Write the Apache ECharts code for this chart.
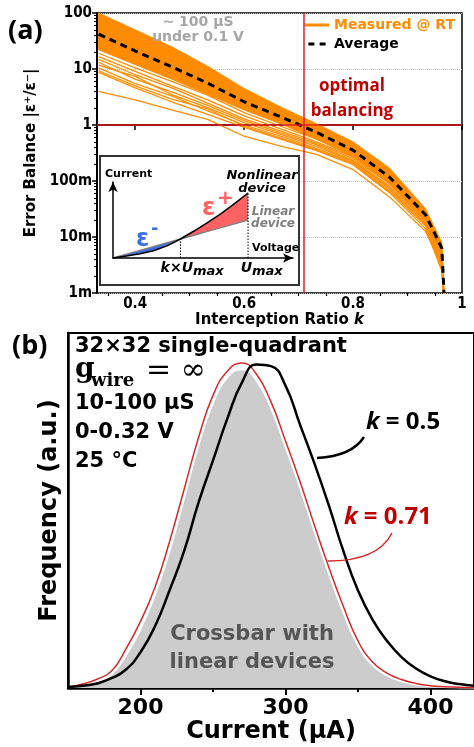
<!DOCTYPE html>
<html lang="en">
<head>
<meta charset="UTF-8">
<title>Error balance / current distribution</title>
<script src="https://cdn.jsdelivr.net/npm/echarts@6/dist/echarts.min.js"></script>
<style>
  html, body { margin: 0; padding: 0; background: #fff; }
  #main { width: 474px; height: 747px; }
</style>
</head>
<body>
<div id="main"></div>
<script>
// ---------- (a) error balance vs interception ratio ----------
var kRatio = [0.333, 0.4, 0.467, 0.533, 0.6, 0.667, 0.733, 0.8, 0.867, 0.933, 0.963, 0.967];
var avgBalance = [42, 21, 11, 5.6, 2.6, 1.4, 0.74, 0.355, 0.117, 0.025, 0.0063, 0.001];
// dense part of the measured band (upper / lower edge)
var bandUpper = [100, 50, 25, 11.2, 4.5, 2.1, 1.05, 0.5, 0.17, 0.032, 0.0079, 0.001];
var bandLower = [22, 12, 6.6, 3.5, 1.86, 1.05, 0.56, 0.27, 0.089, 0.019, 0.005, 0.001];
// single measured devices below the dense band
var measured1 = [19.1, 10.5, 6.0, 3.4, 1.66, 0.95, 0.56, 0.295, 0.105, 0.024, 0.0056, 0.0008];
var measured2 = [16.6, 9.1, 5.0, 2.8, 1.45, 0.85, 0.50, 0.27, 0.095, 0.022, 0.005, 0.0008];
var measured3 = [14.8, 7.9, 4.6, 2.45, 1.29, 0.78, 0.47, 0.25, 0.089, 0.021, 0.0045, 0.0008];
var measured4 = [13.2, 6.6, 3.9, 2.24, 1.2, 0.72, 0.44, 0.234, 0.081, 0.019, 0.004, 0.0008];
var measured5 = [11.7, 7.4, 3.5, 2.04, 1.1, 0.68, 0.41, 0.224, 0.076, 0.0178, 0.0035, 0.0008];
var measured6 = [10.5, 5.5, 3.3, 1.78, 1.0, 0.63, 0.38, 0.214, 0.071, 0.0166, 0.0032, 0.0008];
var measured7 = [9.3, 5.0, 2.9, 1.95, 0.95, 0.59, 0.36, 0.204, 0.066, 0.0158, 0.0028, 0.0008];
var measured8 = [8.7, 4.6, 2.6, 1.55, 0.91, 0.56, 0.35, 0.195, 0.062, 0.0141, 0.0025, 0.0008];
var measuredOutlier = [4.0, 2.8, 1.86, 1.26, 0.63, 0.42, 0.30, 0.16, 0.052, 0.0126, 0.0032, 0.0008];

var kTicks = [0.4, 0.6, 0.8, 1.0];
var kTickLabels = ['0.4', '0.6', '0.8', '1'];
var kMinorTicks = [0.35, 0.45, 0.5, 0.55, 0.65, 0.7, 0.75, 0.85, 0.9, 0.95];
var balanceTickLabels = ['1m', '10m', '100m', '1', '10', '100'];
var minorMultipliers = [2, 3, 4, 5, 6, 7, 8, 9];
var kOptimal = 0.71;
var balanceOne = 1;

// ---------- inset sketch ----------
var sketchV = [0, 0.1, 0.2, 0.3, 0.4, 0.5, 0.6, 0.7, 0.8, 0.9, 1.0];
var sketchLinear = [0, 0.1, 0.2, 0.3, 0.4, 0.5, 0.6, 0.7, 0.8, 0.9, 1.0];
var sketchNonlinear = [0, 0.05, 0.11, 0.19, 0.32, 0.5, 0.71, 0.93, 1.17, 1.43, 1.71];
var sketchK = 0.5;

// ---------- (b) current distributions ----------
var currentUA = [150, 160, 170, 180, 190, 200, 210, 220, 230, 240, 250, 260, 270, 280, 290,
                 300, 310, 320, 330, 340, 350, 360, 370, 380, 390, 400, 410, 420, 430];
var freqK05 = [0.003, 0.007, 0.014, 0.03, 0.057, 0.11, 0.19, 0.30, 0.42, 0.57, 0.70, 0.83, 0.94, 0.995, 0.99,
               0.93, 0.81, 0.69, 0.56, 0.42, 0.30, 0.21, 0.145, 0.095, 0.06, 0.036, 0.021, 0.012, 0.007];
var freqK071 = [0.003, 0.012, 0.027, 0.052, 0.12, 0.205, 0.31, 0.45, 0.61, 0.77, 0.90, 0.975, 1.0, 0.965, 0.88,
                0.76, 0.635, 0.50, 0.37, 0.25, 0.145, 0.08, 0.046, 0.026, 0.014, 0.007, 0.004, 0.002, 0.001];
var freqLinear = [0.002, 0.008, 0.02, 0.042, 0.1, 0.18, 0.285, 0.42, 0.58, 0.745, 0.875, 0.955, 0.98, 0.945, 0.86,
                  0.74, 0.615, 0.48, 0.35, 0.23, 0.13, 0.07, 0.038, 0.02, 0.01, 0.005, 0.002, 0.001, 0.0];
var currentTicks = [200, 300, 400];
var currentMinorTicks = [250, 350];

var SANS = "'DejaVu Sans', sans-serif";
var COND = "'DejaVu Sans Condensed', 'DejaVu Sans', sans-serif";
var CAL = "'Open Sans', sans-serif";
var SERIF = "'DejaVu Serif', serif";
var ORANGE = '#ff8c00';

var balanceMinorLog = [];
for (var d = -3; d < 2; d++) {
    minorMultipliers.forEach(function (m) { balanceMinorLog.push(d + Math.log10(m)); });
}

function pairs(xs, ys) {
    return xs.map(function (x, i) { return [x, ys[i]]; });
}

var series = [];

// dense measured band
series.push({
    type: 'custom', name: 'band', xAxisIndex: 0, yAxisIndex: 0, silent: true, z: 2,
    data: [[kRatio[0], bandUpper[0]]],
    renderItem: function (params, api) {
        var pts = [];
        for (var i = 0; i < kRatio.length; i++) pts.push(api.coord([kRatio[i], bandUpper[i]]));
        for (var j = kRatio.length - 1; j >= 0; j--) pts.push(api.coord([kRatio[j], bandLower[j]]));
        return { type: 'polygon', shape: { points: pts }, style: { fill: ORANGE, stroke: ORANGE, lineWidth: 1 } };
    }
});

[measured1, measured2, measured3, measured4, measured5, measured6, measured7, measured8, measuredOutlier]
    .forEach(function (arr) {
        series.push({
            type: 'line', name: 'Measured @ RT', xAxisIndex: 0, yAxisIndex: 0,
            data: pairs(kRatio, arr), symbol: 'none', silent: true, z: 2,
            itemStyle: { color: ORANGE },
            lineStyle: { color: ORANGE, width: 1.3 }
        });
    });

// red reference lines
series.push({
    type: 'line', name: 'ref', xAxisIndex: 0, yAxisIndex: 0, data: [], z: 3,
    markLine: {
        silent: true, symbol: 'none', label: { show: false },
        lineStyle: { color: '#e02020', width: 1.5, type: 'solid' },
        data: [{ yAxis: balanceOne }, { xAxis: kOptimal }]
    }
});

series.push({
    type: 'line', name: 'Average', xAxisIndex: 0, yAxisIndex: 0,
    data: pairs(kRatio, avgBalance), symbol: 'none', silent: true, z: 4,
    itemStyle: { color: '#000' },
    lineStyle: { color: '#000', width: 3, type: [7, 5] }
});

// inset: error areas and I-V curves
function polygonSeries(color, fwd, back) {
    return {
        type: 'custom', xAxisIndex: 4, yAxisIndex: 3, silent: true, z: 3,
        data: [[0, 0]],
        renderItem: function (params, api) {
            var pts = [];
            fwd.forEach(function (i) { pts.push(api.coord([sketchV[i], sketchLinear[i]])); });
            back.forEach(function (i) { pts.push(api.coord([sketchV[i], sketchNonlinear[i]])); });
            return { type: 'polygon', shape: { points: pts }, style: { fill: color } };
        }
    };
}
series.push(polygonSeries('#3f6fe6', [0, 1, 2, 3, 4, 5], [5, 4, 3, 2, 1, 0]));
series.push(polygonSeries('#ff6262', [5, 6, 7, 8, 9, 10], [10, 9, 8, 7, 6, 5]));
series.push({
    type: 'line', xAxisIndex: 4, yAxisIndex: 3, data: pairs(sketchV, sketchLinear),
    symbol: 'none', silent: true, z: 4, lineStyle: { color: '#808080', width: 1.5 }
});
series.push({
    type: 'line', xAxisIndex: 4, yAxisIndex: 3, data: pairs(sketchV, sketchNonlinear),
    symbol: 'none', silent: true, z: 4, lineStyle: { color: '#000', width: 1.5 }
});
series.push({
    type: 'line', xAxisIndex: 4, yAxisIndex: 3, data: [[sketchK, 0], [sketchK, sketchLinear[5]]],
    symbol: 'none', silent: true, z: 4, lineStyle: { color: '#000', width: 1, type: [1.5, 1.5] }
});
series.push({
    type: 'line', xAxisIndex: 4, yAxisIndex: 3, data: [[1, 0], [1, sketchNonlinear[10]]],
    symbol: 'none', silent: true, z: 4, lineStyle: { color: '#000', width: 1, type: [1.5, 1.5] }
});

// (b) distributions
series.push({
    type: 'line', name: 'linear', xAxisIndex: 2, yAxisIndex: 2, data: pairs(currentUA, freqLinear),
    smooth: true, symbol: 'none', silent: true, z: 2,
    lineStyle: { color: '#fff', width: 1.5 }, areaStyle: { color: '#cccccc', opacity: 1 }
});
series.push({
    type: 'line', name: 'k071', xAxisIndex: 2, yAxisIndex: 2, data: pairs(currentUA, freqK071),
    smooth: true, symbol: 'none', silent: true, z: 3, lineStyle: { color: '#d42a2a', width: 1.5 }
});
series.push({
    type: 'line', name: 'k05', xAxisIndex: 2, yAxisIndex: 2, data: pairs(currentUA, freqK05),
    smooth: true, symbol: 'none', silent: true, z: 4, lineStyle: { color: '#000', width: 2.5 }
});

function txt(x, y, text, font, color, align, vAlign, extra) {
    var st = {
        text: text, font: font, fill: color,
        align: align, verticalAlign: vAlign, textAlign: align, textVerticalAlign: vAlign
    };
    if (extra) for (var key in extra) st[key] = extra[key];
    return { type: 'text', x: x, y: y, z: 100, silent: true, style: st };
}

var graphicEls = [
    txt(8, 31, '(a)', 'bold 27px ' + CAL, '#000', 'left', 'middle'),
    txt(12, 346, '(b)', 'bold 27px ' + CAL, '#000', 'left', 'middle'),
    txt(198, 15, '~ 100 µS\nunder 0.1 V', 'bold 14px ' + SANS, '#a6a6a6', 'center', 'top', { lineHeight: 15 }),
    txt(352, 74, 'optimal\nbalancing', 'bold 17px ' + CAL, '#c00000', 'center', 'top', { lineHeight: 25 }),
    { type: 'rect', z: 1, silent: true, shape: { x: 100, y: 156, width: 199, height: 129 },
      style: { fill: '#fff', stroke: '#333', lineWidth: 2 } },
    txt(105, 174, 'Current', 'bold 11px ' + SANS, '#000', 'left', 'middle'),
    txt(252, 248, 'Voltage', 'bold 11px ' + SANS, '#000', 'left', 'middle'),
    txt(262, 169, 'Nonlinear\ndevice', 'italic bold 13px ' + SANS, '#000', 'center', 'top', { lineHeight: 13 }),
    txt(273, 206, 'Linear\ndevice', 'italic bold 12px ' + SANS, '#7f7f7f', 'center', 'top', { lineHeight: 12 }),
    txt(136, 240, 'ε', 'bold 24px ' + SANS, '#3f6fe6', 'left', 'middle'),
    txt(151, 229, '-', 'bold 18px ' + SANS, '#3f6fe6', 'left', 'middle'),
    txt(202, 209, 'ε', 'bold 24px ' + SANS, '#ff6262', 'left', 'middle'),
    txt(217, 199, '+', 'bold 20px ' + SANS, '#ff6262', 'left', 'middle'),
    txt(193, 268, 'k×U', 'italic bold 14px ' + SANS, '#000', 'right', 'middle'),
    txt(193, 272, 'max', 'italic bold 13px ' + SANS, '#000', 'left', 'middle'),
    txt(252, 268, 'U', 'italic bold 14px ' + SANS, '#000', 'right', 'middle'),
    txt(252, 272, 'max', 'italic bold 13px ' + SANS, '#000', 'left', 'middle'),

    txt(75, 347, '32×32 single-quadrant', 'bold 21px ' + SANS, '#000', 'left', 'middle'),
    txt(75, 370, 'g', 'bold 28px ' + SERIF, '#000', 'left', 'middle'),
    txt(91, 381, 'wire', 'bold 18px ' + SERIF, '#000', 'left', 'middle'),
    txt(146, 371, '= ∞', '30px ' + SERIF, '#000', 'left', 'middle'),
    txt(75, 404, '10-100 µS', 'bold 21px ' + SANS, '#000', 'left', 'middle'),
    txt(75, 433, '0-0.32 V', 'bold 21px ' + SANS, '#000', 'left', 'middle'),
    txt(75, 462, '25 °C', 'bold 21px ' + SANS, '#000', 'left', 'middle'),
    txt(252, 621, 'Crossbar with\nlinear devices', 'bold 21px ' + SANS, '#555555', 'center', 'top', { lineHeight: 28 }),
    txt(366, 422, '{i|k}{n| = 0.5}', 'bold 24px ' + CAL, '#000', 'left', 'middle', {
        rich: {
            i: { fontStyle: 'italic', fontWeight: 'bold', fontSize: 24, fontFamily: CAL, fill: '#000' },
            n: { fontWeight: 'bold', fontSize: 24, fontFamily: CAL, fill: '#000' }
        }
    }),
    txt(344, 517, '{i|k}{n| = 0.71}', 'bold 24px ' + CAL, '#c00000', 'left', 'middle', {
        rich: {
            i: { fontStyle: 'italic', fontWeight: 'bold', fontSize: 24, fontFamily: CAL, fill: '#c00000' },
            n: { fontWeight: 'bold', fontSize: 24, fontFamily: CAL, fill: '#c00000' }
        }
    }),
    { type: 'bezierCurve', z: 100, silent: true,
      shape: { x1: 317, y1: 458, x2: 364, y2: 437, cpx1: 352, cpy1: 456 },
      style: { stroke: '#000', lineWidth: 2.5, fill: null } },
    { type: 'bezierCurve', z: 100, silent: true,
      shape: { x1: 328, y1: 561, x2: 392, y2: 533, cpx1: 378, cpy1: 561 },
      style: { stroke: '#d42a2a', lineWidth: 1.5, fill: null } }
];

var option = {
    animation: false,
    backgroundColor: '#fff',
    grid: [
        { left: 97, right: 12, top: 13, bottom: 454, show: true, borderColor: '#000', borderWidth: 1.5 },
        { left: 68, right: -3, top: 333, bottom: 59, show: true, borderColor: '#000', borderWidth: 2 },
        { left: 113, right: 181, top: 182, bottom: 489 }
    ],
    legend: {
        left: 305, top: 17, orient: 'vertical', padding: 0,
        itemWidth: 24, itemHeight: 3, itemGap: 3, selectedMode: false,
        textStyle: { fontFamily: SANS, fontWeight: 'bold', fontSize: 14, lineHeight: 16 },
        data: [
            { name: 'Measured @ RT', icon: 'rect', itemStyle: { color: ORANGE }, textStyle: { color: ORANGE } },
            { name: 'Average', icon: 'path://M0,0h8v4h-8z M15,0h8v4h-8z', itemStyle: { color: '#000' }, textStyle: { color: '#000' } }
        ]
    },
    xAxis: [
        {
            type: 'value', gridIndex: 0, min: 0.33, max: 1.0, position: 'bottom',
            axisLine: { show: true, lineStyle: { color: '#000', width: 2 } },
            axisTick: { show: true, customValues: kTicks, length: 5, lineStyle: { color: '#000', width: 1.5 } },
            axisLabel: {
                show: true, customValues: kTicks, margin: 4,
                formatter: function (v) {
                    for (var i = 0; i < kTicks.length; i++) if (Math.abs(kTicks[i] - v) < 1e-6) return kTickLabels[i];
                    return '';
                },
                color: '#000', fontWeight: 'bold', fontFamily: COND, fontSize: 15
            },
            splitLine: { show: false },
            name: 'Interception Ratio {it|k}', nameLocation: 'middle', nameGap: 17,
            nameTextStyle: {
                color: '#000', fontWeight: 'bold', fontFamily: SANS, fontSize: 15,
                rich: { it: { fontStyle: 'italic', fontWeight: 'bold', fontFamily: SANS, fontSize: 15, color: '#000' } }
            }
        },
        {
            type: 'value', gridIndex: 0, min: 0.33, max: 1.0, position: 'bottom',
            axisLine: { show: false },
            axisTick: { show: true, customValues: kMinorTicks, length: 3, lineStyle: { color: '#000', width: 1.2 } },
            axisLabel: { show: false }, splitLine: { show: false }
        },
        {
            type: 'value', gridIndex: 1, min: 150, max: 430, position: 'bottom',
            axisLine: { show: true, lineStyle: { color: '#000', width: 2.5 } },
            axisTick: { show: true, customValues: currentTicks, length: 7, lineStyle: { color: '#000', width: 2 } },
            axisLabel: {
                show: true, customValues: currentTicks, margin: 9,
                color: '#000', fontWeight: 'bold', fontFamily: SANS, fontSize: 22
            },
            splitLine: { show: false },
            name: 'Current (µA)', nameLocation: 'middle', nameGap: 30,
            nameTextStyle: { color: '#000', fontWeight: 'bold', fontFamily: SANS, fontSize: 24 }
        },
        {
            type: 'value', gridIndex: 1, min: 150, max: 430, position: 'bottom',
            axisLine: { show: false },
            axisTick: { show: true, customValues: currentMinorTicks, length: 4, lineStyle: { color: '#000', width: 2 } },
            axisLabel: { show: false }, splitLine: { show: false }
        },
        {
            type: 'value', gridIndex: 2, min: 0, max: 1.333, z: 5,
            axisLine: { show: true, symbol: ['none', 'arrow'], symbolSize: [7, 10], lineStyle: { color: '#000', width: 1.5 } },
            axisTick: { show: false }, axisLabel: { show: false }, splitLine: { show: false }
        }
    ],
    yAxis: [
        {
            type: 'log', logBase: 10, gridIndex: 0, min: 0.001, max: 100, position: 'left',
            axisLine: { show: true, lineStyle: { color: '#000', width: 2 } },
            axisTick: { show: true, length: 5, lineStyle: { color: '#000', width: 1.5 } },
            axisLabel: {
                margin: 5, color: '#000', fontWeight: 'bold', fontFamily: COND, fontSize: 15,
                formatter: function (v) {
                    var idx = Math.round(Math.log10(v)) + 3;
                    return balanceTickLabels[idx] || '';
                }
            },
            splitLine: { show: true, lineStyle: { type: 'dotted', color: '#b8b8b8', width: 1 } },
            name: 'Error Balance |ε⁺/ε⁻|', nameLocation: 'middle', nameRotate: 90, nameGap: 42,
            nameTextStyle: { color: '#000', fontWeight: 'bold', fontFamily: SANS, fontSize: 15 }
        },
        {
            type: 'value', gridIndex: 0, min: -3, max: 2, position: 'left',
            axisLine: { show: false },
            axisTick: { show: true, customValues: balanceMinorLog, length: 3, lineStyle: { color: '#000', width: 1 } },
            axisLabel: { show: false }, splitLine: { show: false }
        },
        {
            type: 'value', gridIndex: 1, min: 0, max: 1.092, position: 'left',
            axisLine: { show: true, lineStyle: { color: '#000', width: 2.5 } },
            axisTick: { show: false }, axisLabel: { show: false }, splitLine: { show: false },
            name: 'Frequency (a.u.)', nameLocation: 'middle', nameRotate: 90, nameGap: 6,
            nameTextStyle: { color: '#000', fontWeight: 'bold', fontFamily: SANS, fontSize: 24 }
        },
        {
            type: 'value', gridIndex: 2, min: 0, max: 2, position: 'left', z: 5,
            axisLine: { show: true, symbol: ['none', 'arrow'], symbolSize: [7, 10], lineStyle: { color: '#000', width: 1.5 } },
            axisTick: { show: false }, axisLabel: { show: false }, splitLine: { show: false }
        }
    ],
    series: series,
    graphic: graphicEls
};

var chart = echarts.init(document.getElementById('main'), null, { renderer: 'canvas' });
chart.setOption(option);
</script>
</body>
</html>
